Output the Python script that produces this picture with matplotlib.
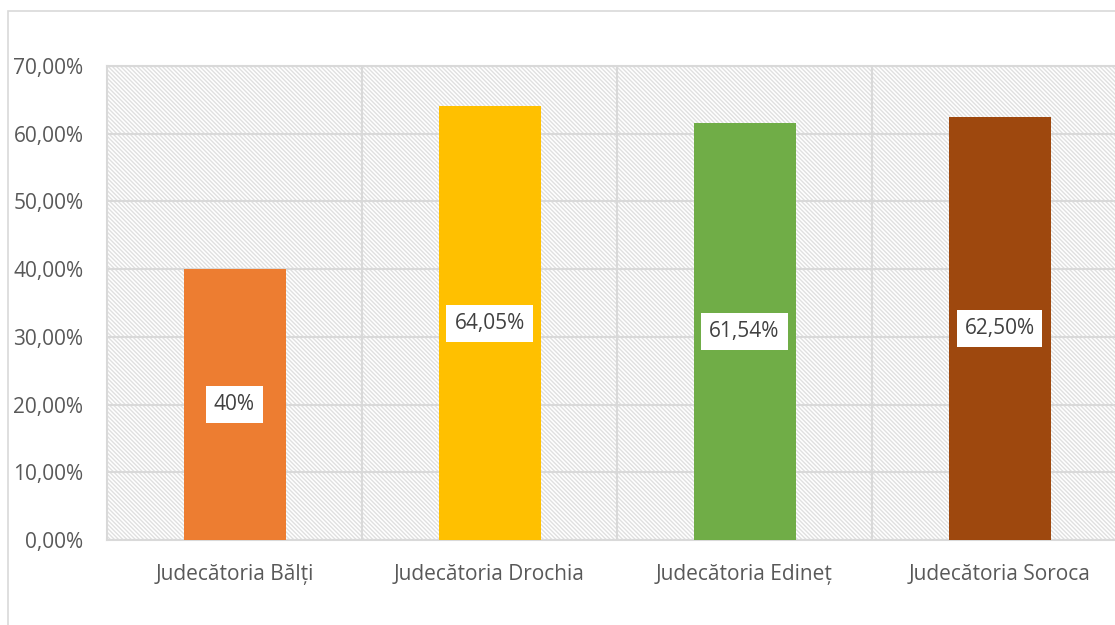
import matplotlib
matplotlib.use("Agg")
import matplotlib.pyplot as plt
from matplotlib.patches import Rectangle

categories = ["Judecătoria Bălți", "Judecătoria Drochia", "Judecătoria Edineț", "Judecătoria Soroca"]
values = [40.0, 64.05, 61.54, 62.50]
value_labels = ["40%", "64,05%", "61,54%", "62,50%"]
colors = ["#ED7D31", "#FFC000", "#70AD47", "#9E480E"]
yticks = [0, 10, 20, 30, 40, 50, 60, 70]
ytick_labels = ["0,00%", "10,00%", "20,00%", "30,00%", "40,00%", "50,00%", "60,00%", "70,00%"]

plt.rcParams['font.family'] = ['Open Sans', 'DejaVu Sans']
plt.rcParams['hatch.linewidth'] = 1.0
plt.rcParams['hatch.color'] = '#e0e0e0'

W, H = 1115, 625
fig = plt.figure(figsize=(W / 100, H / 100), dpi=100)
fig.patch.set_facecolor('white')

# chart border (extends beyond the cropped image on right/bottom)
fig.add_artist(Rectangle((8 / W, -0.1), 1.2, (H - 11) / H + 0.1, transform=fig.transFigure,
                         fill=False, edgecolor='#d9d9d9', lw=1.2, clip_on=False))

left, right, bottom, top = 107, 1127, 540, 66
ax = fig.add_axes([left / W, (H - bottom) / H, (right - left) / W, (bottom - top) / H])
ax.set_facecolor('white')

# hatched plot area background
ax.add_patch(Rectangle((0, 0), 1, 1, transform=ax.transAxes, facecolor='white',
                       edgecolor='#e0e0e0', hatch='\\\\\\\\\\\\\\\\', lw=0, zorder=0))

x = list(range(len(categories)))
ax.bar(x, values, width=0.40, color=colors, zorder=3)

for xi, v, lab in zip(x, values, value_labels):
    ax.text(xi, v / 2, lab, ha='center', va='center', fontsize=15, color='#404040', zorder=5,
            bbox=dict(boxstyle='square,pad=0.38', facecolor='white', edgecolor='none'))

ax.set_xlim(-0.5, len(categories) - 0.5)
ax.set_ylim(0, 70)
ax.set_yticks(yticks)
ax.set_yticklabels(ytick_labels, fontsize=15, color='#595959')
ax.set_xticks(x)
ax.set_xticklabels(categories, fontsize=15, color='#595959')
ax.tick_params(axis='both', length=0)
ax.tick_params(axis='y', pad=17)
ax.tick_params(axis='x', pad=17)

for yv in yticks:
    ax.axhline(yv, color='#d9d9d9', lw=1.5, zorder=1)
for b in [0.5, 1.5, 2.5]:
    ax.axvline(b, color='#d9d9d9', lw=1.5, zorder=1)

for s in ['top', 'left', 'bottom']:
    ax.spines[s].set_color('#d9d9d9')
    ax.spines[s].set_linewidth(1.5)
ax.spines['right'].set_visible(False)

fig.savefig('out.png', dpi=100, facecolor='white')
